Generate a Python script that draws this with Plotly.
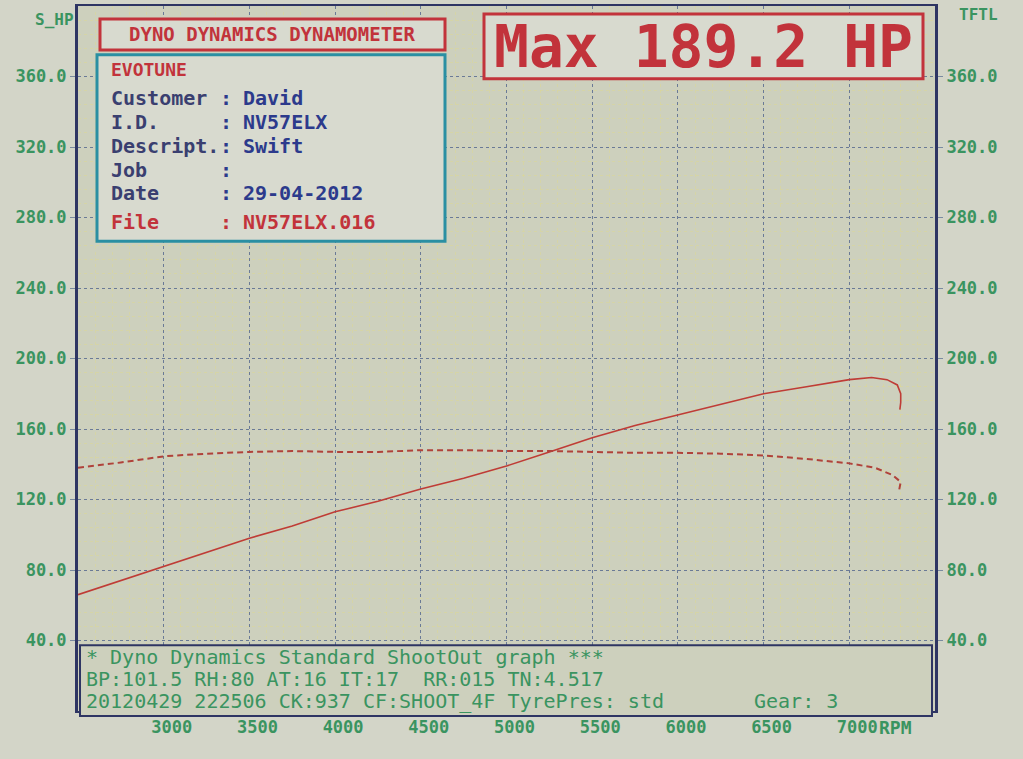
import plotly.graph_objects as go

# ---------------- data ----------------
rpm_power = [2500, 2750, 3000, 3250, 3500, 3750, 4000, 4250, 4500, 4750, 5000, 5250,
             5500, 5750, 6000, 6250, 6500, 6750, 7000, 7130, 7220, 7280, 7300, 7300, 7295]
power_hp = [66, 74, 82, 90, 98, 105, 113, 119, 126, 132, 139, 147,
            155, 162, 168, 174, 180, 184, 188, 189.2, 188, 185, 180, 175, 171]

rpm_torque = [2500, 2750, 3000, 3250, 3500, 3750, 4000, 4250, 4500, 4750, 5000, 5250,
              5500, 5750, 6000, 6250, 6500, 6750, 7000, 7150, 7250, 7300, 7290]
torque_ftlb = [138, 141, 144.5, 146, 147, 147.5, 147, 147, 148, 148, 147.5, 147.5,
               147, 146.5, 146.5, 146, 145, 143, 140.5, 138, 134, 130, 125]

x_ticks = [3000, 3500, 4000, 4500, 5000, 5500, 6000, 6500, 7000]
y_ticks = [40, 80, 120, 160, 200, 240, 280, 320, 360]
y_tick_labels = ["40.0", "80.0", "120.0", "160.0", "200.0", "240.0", "280.0", "320.0", "360.0"]

info_labels = ["Customer", "I.D.", "Descript.", "Job", "Date", "File"]
info_values = ["David", "NV57ELX", "Swift", "", "29-04-2012", "NV57ELX.016"]
footer_lines = ["* Dyno Dynamics Standard ShootOut graph ***",
                "BP:101.5 RH:80 AT:16 IT:17  RR:015 TN:4.517",
                "20120429 222506 CK:937 CF:SHOOT_4F TyrePres: std"]

# ---------------- layout geometry (pixels) ----------------
W, H = 1023, 759
L, R, T, B = 78, 935, 4, 711
FONT = "DejaVu Sans Mono"
GREEN = "#3a9460"
RED = "#c2333b"
NAVY = "#2e3563"
TEAL = "#2a8fa3"
PAGE_BG = "#d3d5c8"
PLOT_BG = "#cdd0bd"


def px(x):
    return (x - L) / (R - L)


def py(y):
    return 1 - (y - T) / (B - T)


def note(x, y, text, size, color, anchor="left", bold=True):
    return dict(xref="paper", yref="paper", x=px(x), y=py(y), text=text, showarrow=False,
                xanchor=anchor, yanchor="middle",
                font=dict(family=FONT, size=size, color=color, weight="bold" if bold else "normal"))


fig = go.Figure()
fig.add_trace(go.Scatter(x=rpm_torque, y=torque_ftlb, mode="lines", yaxis="y2",
                         line=dict(color="#b0423a", width=2, dash="6px,4px"),
                         name="Torque", showlegend=False))
fig.add_trace(go.Scatter(x=rpm_power, y=power_hp, mode="lines",
                         line=dict(color="#bf3c36", width=1.6),
                         name="Power", showlegend=False))

shapes = []
annos = []

# Title box
shapes.append(dict(type="rect", xref="paper", yref="paper", x0=px(100), x1=px(445), y0=py(48), y1=py(17),
                   line=dict(color=RED, width=3), fillcolor="#d8dacf", layer="above"))
annos.append(note(272, 32, "DYNO DYNAMICS DYNAMOMETER", 19, RED, "center"))
# Info box
shapes.append(dict(type="rect", xref="paper", yref="paper", x0=px(97), x1=px(445), y0=py(240), y1=py(53),
                   line=dict(color=TEAL, width=3), fillcolor="#d8dacf", layer="above"))
annos.append(note(109, 68, "EVOTUNE", 18, RED))
row_y = [96, 120, 144, 168, 192, 221]
for i, (lab, val) in enumerate(zip(info_labels, info_values)):
    col = RED if lab == "File" else "#3a3f70"
    vcol = RED if lab == "File" else "#2c3a8c"
    annos.append(note(109, row_y[i], lab, 20, col))
    annos.append(note(218, row_y[i], ":", 20, vcol))
    if val:
        annos.append(note(241, row_y[i], val, 20, vcol))

# Max box
shapes.append(dict(type="rect", xref="paper", yref="paper", x0=px(484), x1=px(923), y0=py(77), y1=py(12),
                   line=dict(color=RED, width=3), fillcolor="#d8dacf", layer="above"))
annos.append(note(703, 45, "Max " + f"{max(power_hp):.1f}" + " HP", 58, RED, "center"))

# Footer box
shapes.append(dict(type="rect", xref="paper", yref="paper", x0=px(80), x1=px(932), y0=py(716), y1=py(645),
                   line=dict(color=NAVY, width=2), fillcolor=PLOT_BG, layer="above"))
for i, txt in enumerate(footer_lines):
    annos.append(note(84, 657 + 22 * i, txt, 20, GREEN, bold=False))
annos.append(note(752, 701, "Gear: 3", 20, GREEN, bold=False))

# Axis captions
annos.append(note(76, 18, "S_HP", 16, GREEN, "right"))
annos.append(note(978, 13, "TFTL", 16, GREEN, "center"))
annos.append(note(877, 728, "RPM", 18, GREEN))

axis_font = dict(family=FONT, size=17, color=GREEN, weight="bold")
fig.update_layout(
    width=W, height=H,
    margin=dict(l=L, r=W - R, t=T, b=H - B),
    paper_bgcolor=PAGE_BG, plot_bgcolor=PLOT_BG,
    shapes=shapes, annotations=annos,
    xaxis=dict(range=[2500, 7500], tickvals=x_ticks, ticktext=[str(v) for v in x_ticks],
               tickfont=axis_font, ticks="", ticklabelstandoff=0, ticklabelshift=8,
               showgrid=True, gridcolor="#6a7a96", griddash="dot", gridwidth=1,
               minor=dict(dtick=100, showgrid=True, gridcolor="rgba(225,218,140,0.45)", gridwidth=1),
               showline=True, linecolor=NAVY, linewidth=2, mirror=True, zeroline=False),
    yaxis=dict(range=[0, 400], tickvals=y_ticks, ticktext=y_tick_labels, tickfont=axis_font,
               ticks="outside", ticklen=5, tickcolor="#7a8aa0",
               showgrid=True, gridcolor="#6a7a96", griddash="dot", gridwidth=1,
               minor=dict(dtick=8, showgrid=True, gridcolor="rgba(225,218,140,0.45)", gridwidth=1),
               showline=True, linecolor=NAVY, linewidth=3, zeroline=False),
    yaxis2=dict(range=[0, 400], tickvals=y_ticks, ticktext=y_tick_labels, tickfont=axis_font,
                overlaying="y", side="right", showgrid=False, ticks="outside", ticklen=5,
                tickcolor="#7a8aa0", showline=True, linecolor=NAVY, linewidth=3, zeroline=False),
)

fig.write_html("out.html", config={"displayModeBar": False},
               post_script="document.body.style.margin='0';")
